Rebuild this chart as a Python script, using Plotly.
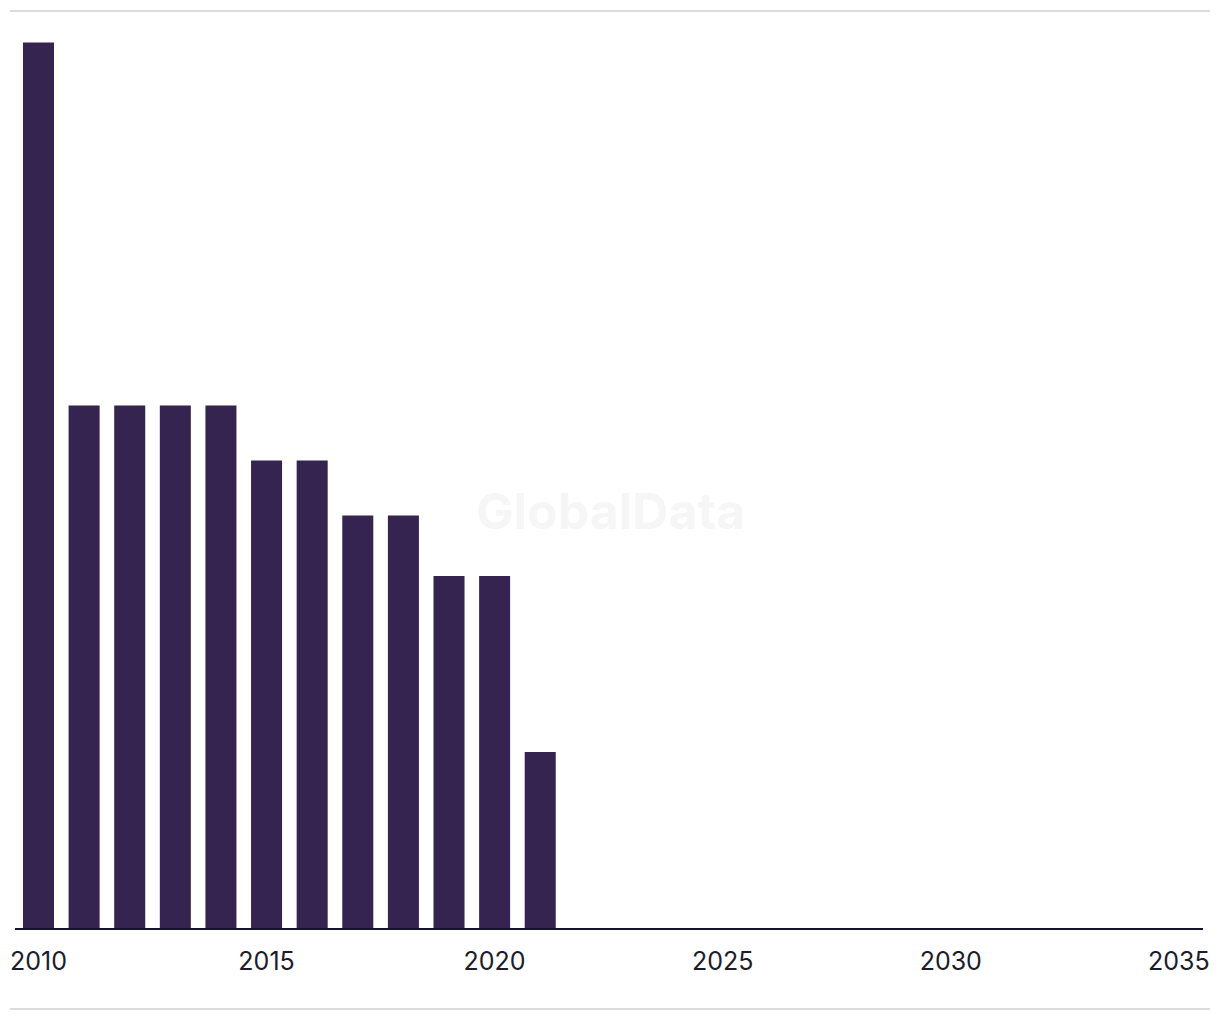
import plotly.graph_objects as go

years = [2010, 2011, 2012, 2013, 2014, 2015, 2016, 2017, 2018, 2019, 2020, 2021]
values = [16.1, 9.5, 9.5, 9.5, 9.5, 8.5, 8.5, 7.5, 7.5, 6.4, 6.4, 3.2]
tick_vals = [2010, 2015, 2020, 2025, 2030, 2035]
tick_text = ["2010", "2015", "2020", "2025", "2030", "2035"]

# page has an 8px body margin, so figure coords = page coords - 8
W, H = 1212, 1012
ml, mr, mt, mb = 7, 17, 22, 92
plot_h = H - mt - mb
plot_w = W - ml - mr

fig = go.Figure()
fig.add_trace(go.Bar(
    x=years, y=values, width=0.68,
    marker=dict(color="#352350", line=dict(width=0)),
    hoverinfo="x+y",
))

def py(pix):
    return (H - mb - pix) / plot_h

def px(pix):
    return (pix - ml) / plot_w

fig.add_shape(type="line", xref="paper", yref="paper",
              x0=px(2), x1=px(1202), y0=py(3), y1=py(3),
              line=dict(color="#dcdcdc", width=2))
fig.add_shape(type="line", xref="paper", yref="paper",
              x0=px(2), x1=px(1202), y0=py(1001), y1=py(1001),
              line=dict(color="#dcdcdc", width=2))

fig.add_annotation(text="<b>GlobalData</b>", xref="paper", yref="paper",
                   x=px(602), y=py(503), showarrow=False,
                   font=dict(family="Inter, Roboto, sans-serif", size=50, color="#f6f6f6"))

fig.update_layout(
    width=W, height=H,
    margin=dict(l=ml, r=mr, t=mt, b=mb, autoexpand=False),
    paper_bgcolor="white", plot_bgcolor="white",
    showlegend=False,
    font=dict(family="Inter, Roboto, sans-serif", color="#1c1c2a"),
    xaxis=dict(
        range=[2009.485, 2035.53],
        tickmode="array", tickvals=tick_vals, ticktext=tick_text,
        tickfont=dict(size=25, color="#1c1c2a"),
        showgrid=False, zeroline=False,
        showline=True, linecolor="#14142a", linewidth=2,
        ticks="outside", ticklen=10, tickcolor="rgba(0,0,0,0)",
        automargin=False, ticklabeloverflow="allow",
    ),
    yaxis=dict(
        range=[0, plot_h / 55.0],
        showgrid=False, zeroline=False, showline=False,
        showticklabels=False, ticks="", automargin=False,
    ),
)

fig.write_html("out.html")
